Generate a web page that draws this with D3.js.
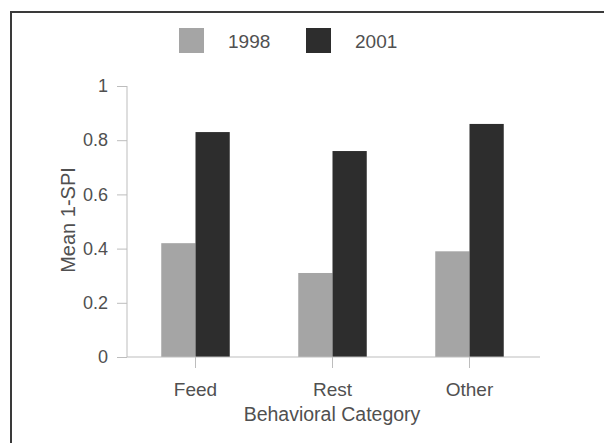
<!DOCTYPE html>
<html>
<head>
<meta charset="utf-8">
<script src="https://cdn.jsdelivr.net/npm/d3@7"></script>
<style>
    body { margin: 0; background: #fff; }
    svg { display: block; font-family: "Liberation Sans", Arial, sans-serif; }
    .axis path, .axis line { stroke: #bdbdbd; }
    .axis text { fill: #505050; font-size: 18px; }
    .xaxis text { font-size: 19px; }
</style>
</head>
<body>
<div id="chart"></div>
<script>
const categories = ["Feed", "Rest", "Other"];
const years = ["1998", "2001"];
const values1998 = [0.42, 0.31, 0.39];
const values2001 = [0.83, 0.76, 0.86];
const yTicks = [0, 0.2, 0.4, 0.6, 0.8, 1];
const colors = ["#a5a5a5", "#2d2d2d"];

function drawChart() {
    const width = 604, height = 443;
    const margin = { top: 86, right: 66, bottom: 85, left: 127 };

    const svg = d3.select("#chart")
        .append("svg")
        .attr("width", width)
        .attr("height", height);

    // scanned page frame, only top and left edges show
    svg.append("rect")
        .attr("x", 11).attr("y", 12)
        .attr("width", 700).attr("height", 600)
        .attr("fill", "none")
        .attr("stroke", "#3a3a3a")
        .attr("stroke-width", 2);

    const x = d3.scaleBand()
        .domain(categories)
        .range([margin.left, width - margin.right]);

    const y = d3.scaleLinear()
        .domain([0, 1])
        .range([height - margin.bottom - 1, margin.top]);

    const barW = x.bandwidth() * 0.25;
    const series = [values1998, values2001];

    series.forEach((vals, s) => {
        svg.append("g")
            .selectAll("rect")
            .data(categories)
            .join("rect")
            .attr("x", d => x(d) + x.bandwidth() / 2 - barW + s * barW)
            .attr("y", (d, i) => y(vals[i]))
            .attr("width", barW)
            .attr("height", (d, i) => y(0) - y(vals[i]))
            .attr("fill", colors[s]);
    });

    const yAxis = d3.axisLeft(y)
        .tickValues(yTicks)
        .tickFormat(d3.format("~g"))
        .tickSize(10)
        .tickPadding(9);

    svg.append("g")
        .attr("class", "axis")
        .attr("transform", `translate(${margin.left}, 0)`)
        .call(yAxis)
        .call(g => g.select(".domain").attr("d", `M0,${y(1)}V${y(0)}`));

    const xAxis = d3.axisBottom(x)
        .tickSize(11)
        .tickPadding(15);

    svg.append("g")
        .attr("class", "axis xaxis")
        .attr("transform", `translate(0, ${y(0)})`)
        .call(xAxis)
        .call(g => g.select(".domain").attr("d", `M${margin.left},0H${width - margin.right + 2}`));

    svg.append("text")
        .attr("x", 332)
        .attr("y", 421)
        .attr("text-anchor", "middle")
        .attr("fill", "#505050")
        .style("font-size", "19.5px")
        .text("Behavioral Category");

    svg.append("text")
        .attr("transform", "translate(75, 220) rotate(-90)")
        .attr("text-anchor", "middle")
        .attr("fill", "#505050")
        .style("font-size", "20px")
        .text("Mean 1-SPI");

    // legend
    const legendX = [179, 306];
    const legend = svg.append("g").selectAll("g")
        .data(years)
        .join("g")
        .attr("transform", (d, i) => `translate(${legendX[i]}, 28)`);

    legend.append("rect")
        .attr("width", 25)
        .attr("height", 25)
        .attr("fill", (d, i) => colors[i]);

    legend.append("text")
        .attr("x", 49)
        .attr("y", 20)
        .attr("fill", "#505050")
        .style("font-size", "19px")
        .text(d => d);
}

drawChart();
</script>
</body>
</html>
